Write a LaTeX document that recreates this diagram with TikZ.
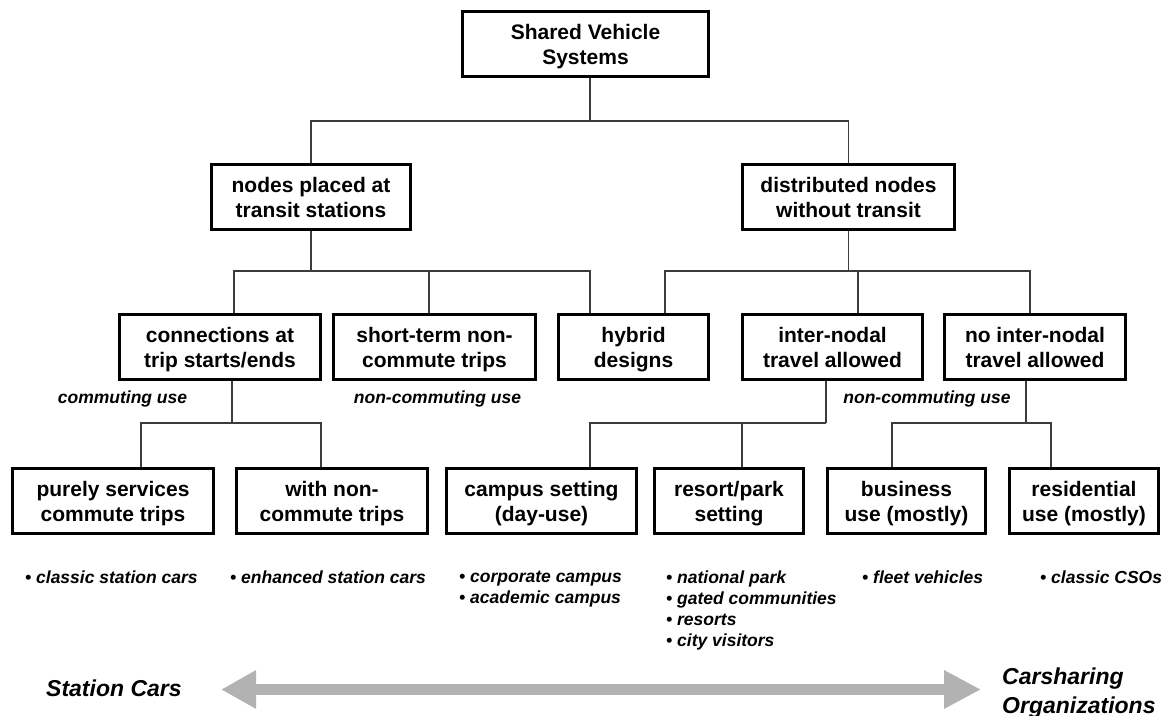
\documentclass[tikz,border=0pt]{standalone}
\usepackage{fontspec}
\setmainfont{Liberation Sans}
\usetikzlibrary{arrows.meta}
\definecolor{wiregray}{RGB}{60,60,60}
\definecolor{arrowgray}{RGB}{178,178,178}
\newcommand{\nodepth}[1]{\raisebox{0pt}[\height][0pt]{#1}}
\tikzset{
 box/.style={draw=black, line width=2.7pt, inner sep=0pt, minimum height=65.5pt, align=center, font=\fontsize{21}{25}\selectfont\bfseries},
 wire/.style={draw=wiregray, line width=1.3pt},
 uselabel/.style={font=\fontsize{17.5}{21}\selectfont\bfseries\itshape, inner sep=0pt},
 bullets/.style={font=\fontsize{17.5}{21}\selectfont\bfseries\itshape, align=left, anchor=north west, inner sep=0pt},
 endlabel/.style={font=\fontsize{23}{29}\selectfont\bfseries\itshape, align=left, inner sep=0pt},
 bigarrow/.style={draw=arrowgray, line width=11pt, {Triangle[length=35pt,width=36pt]}-{Triangle[length=37pt,width=36pt]}},
}
\begin{document}
\begin{tikzpicture}[x=1pt,y=-1pt]
\fill[white] (0,0) rectangle (1167,715);
\useasboundingbox (0,0) rectangle (1167,715);

% level 1
\node[box, minimum width=246pt] (top) at (585.5,44) {Shared Vehicle\\\nodepth{Systems}};
% level 2
\node[box, minimum width=199pt] (transit) at (311,197) {nodes placed at\\transit stations};
\node[box, minimum width=212pt] (distrib) at (848.5,197) {distributed nodes\\without transit};
% level 3
\node[box, minimum width=201pt] (conn) at (220,347) {connections at\\\nodepth{trip starts/ends}};
\node[box, minimum width=202pt] (short) at (434.5,347) {short-term non-\\\nodepth{commute trips}};
\node[box, minimum width=150pt] (hybrid) at (633.5,347) {hybrid\\\nodepth{designs}};
\node[box, minimum width=180pt] (inter) at (832.5,347) {inter-nodal\\travel allowed};
\node[box, minimum width=181pt] (nointer) at (1035,347) {no inter-nodal\\travel allowed};
% level 4
\node[box, minimum width=201pt] (purely) at (113,501) {purely services\\\nodepth{commute trips}};
\node[box, minimum width=191pt] (withnon) at (332,501) {with non-\\\nodepth{commute trips}};
\node[box, minimum width=190pt] (campus) at (541.5,501) {campus setting\\\nodepth{(day-use)}};
\node[box, minimum width=149pt] (resort) at (729,501) {resort/park\\\nodepth{setting}};
\node[box, minimum width=158pt] (business) at (906.5,501) {business\\\nodepth{use (mostly)}};
\node[box, minimum width=149pt] (resid) at (1084,501) {residential\\\nodepth{use (mostly)}};

% connectors
\draw[wire] ([xshift=4.5pt]top.south) -- ++(0,43) coordinate (j1);
\draw[wire] (j1) -| (transit.north);
\draw[wire] (j1) -| (distrib.north);

\draw[wire] (transit.south) -- ++(0,40) coordinate (j2);
\draw[wire] (j2) -| ([xshift=14pt]conn.north);
\draw[wire] (j2) -| ([xshift=-5.5pt]short.north);
\draw[wire] (j2) -| ([xshift=-43.5pt]hybrid.north);

\draw[wire] (distrib.south) -- ++(0,40) coordinate (j3);
\draw[wire] (j3) -| ([xshift=31.5pt]hybrid.north);
\draw[wire] (j3) -| ([xshift=25.5pt]inter.north);
\draw[wire] (j3) -| ([xshift=-5pt]nointer.north);

\draw[wire] ([xshift=12pt]conn.south) -- ++(0,42) coordinate (j4);
\draw[wire] (j4) -| ([xshift=28pt]purely.north);
\draw[wire] (j4) -| ([xshift=-11pt]withnon.north);

\draw[wire] ([xshift=-6.5pt]inter.south) -- ++(0,42) coordinate (j5);
\draw[wire] (j5) -| ([xshift=48.5pt]campus.north);
\draw[wire] (j5) -| ([xshift=13pt]resort.north);

\draw[wire] ([xshift=-9pt]nointer.south) -- ++(0,42) coordinate (j6);
\draw[wire] (j6) -| ([xshift=-14.5pt]business.north);
\draw[wire] (j6) -| ([xshift=-33pt]resid.north);

% use labels
\node[uselabel] (lc) at (122.5,399) {commuting use};
\node[uselabel] (lnc1) at (437.5,399) {non-commuting use};
\node[uselabel] (lnc2) at (927,399) {non-commuting use};

% examples
\node[bullets] (ex1) at (25,571) {• classic station cars};
\node[bullets] (ex2) at (230,571) {• enhanced station cars};
\node[bullets] (ex3) at (459,571) {• corporate campus\\• academic campus};
\node[bullets] (ex4) at (666,571) {• national park\\• gated communities\\• resorts\\• city visitors};
\node[bullets] (ex5) at (862,571) {• fleet vehicles};
\node[bullets] (ex6) at (1040,571) {• classic CSOs};

% spectrum
\node[endlabel, anchor=base west] (sc) at (46,696) {Station Cars};
\node[endlabel, anchor=north west] (cso) at (1002,668) {Carsharing\\Organizations};
\coordinate (al) at (221,689.5);
\coordinate (ar) at (981,689.5);
\draw[bigarrow] (al) -- (ar);
\end{tikzpicture}
\end{document}
